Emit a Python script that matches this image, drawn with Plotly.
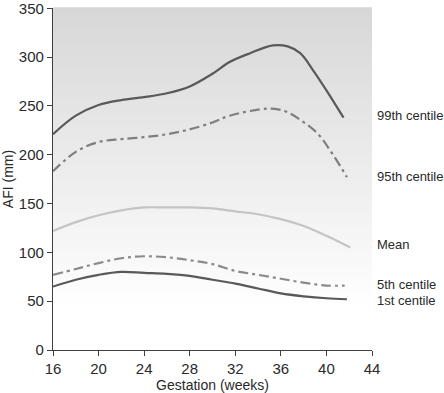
import plotly.graph_objects as go

weeks_99 = [16, 18, 20, 22, 24, 26, 28, 30, 31.5, 33.3, 35.3, 36.6, 37.7, 38.8, 40, 41.5]
afi_99 = [221, 240, 251, 256, 259, 263, 270, 283, 295, 304, 312, 311, 304, 287, 266, 238]

weeks_95 = [16, 18, 20, 22, 24, 26, 28, 30, 31.5, 34.2, 35.5, 36.6, 37.8, 39.2, 40.3, 41.8]
afi_95 = [183, 203, 213, 216, 218, 221, 226, 233, 240, 246.5, 247, 243.5, 235, 222, 205, 177]

weeks_mean = [16, 18, 20, 22, 24, 26, 28, 30, 32, 34, 36, 38, 40, 42.1]
afi_mean = [122, 131, 138, 143, 146, 146, 146, 145, 142, 139, 134, 127, 117, 105]

weeks_5 = [16, 18, 20, 22, 24, 26, 28, 30, 32, 34, 36, 38, 40, 41.6]
afi_5 = [77, 83, 89, 94, 96, 95, 92, 88, 81, 77, 73, 69, 66, 66]

weeks_1 = [16, 18, 20, 22, 24, 26, 28, 30, 32, 34, 36, 38, 40, 41.8]
afi_1 = [65, 72, 77, 80, 79, 78, 76, 72, 68, 63, 58, 55, 53, 52]

labels = ["99th centile", "95th centile", "Mean", "5th centile", "1st centile"]
label_y = [240, 178, 108, 67, 51]

x_ticks = [16, 20, 24, 28, 32, 36, 40, 44]
y_ticks = [0, 50, 100, 150, 200, 250, 300, 350]

FONT = "Liberation Sans, Arial, sans-serif"
TEXT = "#2a2a2a"

fig = go.Figure()

# background vertical gradient as stripes
n = 70
top = (215, 215, 215)
bot = (255, 255, 255)
white_frac = 0.12
shapes = []
for i in range(n):
    yc = (i + 0.5) / n
    t = max(0.0, (yc - white_frac) / (1 - white_frac))
    c = tuple(int(round(bot[k] + (top[k] - bot[k]) * t)) for k in range(3))
    shapes.append(dict(type="rect", xref="x domain", yref="y domain",
                       x0=0, x1=1, y0=i / n, y1=(i + 1) / n + 0.002,
                       fillcolor="rgb(%d,%d,%d)" % c, line=dict(width=0),
                       layer="below"))

DASHDOT = "10px,4px,3px,4px"
series = [
    (weeks_99, afi_99, "#595959", "solid"),
    (weeks_95, afi_95, "#7f7f7f", DASHDOT),
    (weeks_mean, afi_mean, "#c4c4c4", "solid"),
    (weeks_5, afi_5, "#8a8a8a", DASHDOT),
    (weeks_1, afi_1, "#595959", "solid"),
]
for (xs, ys, col, dash), name in zip(series, labels):
    fig.add_trace(go.Scatter(x=xs, y=ys, mode="lines", name=name,
                             line=dict(color=col, width=2.2, dash=dash, shape="spline", smoothing=1.0),
                             showlegend=False, hoverinfo="skip"))

annotations = []
for lab, yv in zip(labels, label_y):
    annotations.append(dict(text=lab, xref="paper", yref="y", x=1.0, xshift=3, y=yv,
                            xanchor="left", yanchor="middle", showarrow=False,
                            font=dict(family=FONT, size=13, color=TEXT)))

fig.update_layout(
    width=444, height=393,
    margin=dict(l=53, r=72, t=8, b=43, autoexpand=False),
    paper_bgcolor="white", plot_bgcolor="white",
    shapes=shapes, annotations=annotations,
    font=dict(family=FONT, size=14, color=TEXT),
)
fig.update_xaxes(range=[16, 44], tickvals=x_ticks, showgrid=False, zeroline=False,
                 showline=True, linecolor="#404040", linewidth=1.2, automargin=False,
                 ticks="outside", ticklen=5, tickcolor="#404040",
                 ticklabeloverflow="allow",
                 tickfont=dict(family=FONT, size=15, color=TEXT),
                 title=dict(text="Gestation (weeks)", font=dict(family=FONT, size=14, color=TEXT), standoff=3))
fig.update_yaxes(range=[0, 350.3], tickvals=y_ticks, showgrid=False, zeroline=False,
                 showline=True, linecolor="#404040", linewidth=1.2, automargin=False,
                 ticks="outside", ticklen=5, tickcolor="#404040",
                 ticklabeloverflow="allow",
                 tickfont=dict(family=FONT, size=15, color=TEXT),
                 title=dict(text="AFI (mm)", font=dict(family=FONT, size=14, color=TEXT), standoff=2))

fig.write_html("out.html", config={"displayModeBar": False},
               post_script="document.body.style.margin='0';document.body.style.overflow='hidden';")
